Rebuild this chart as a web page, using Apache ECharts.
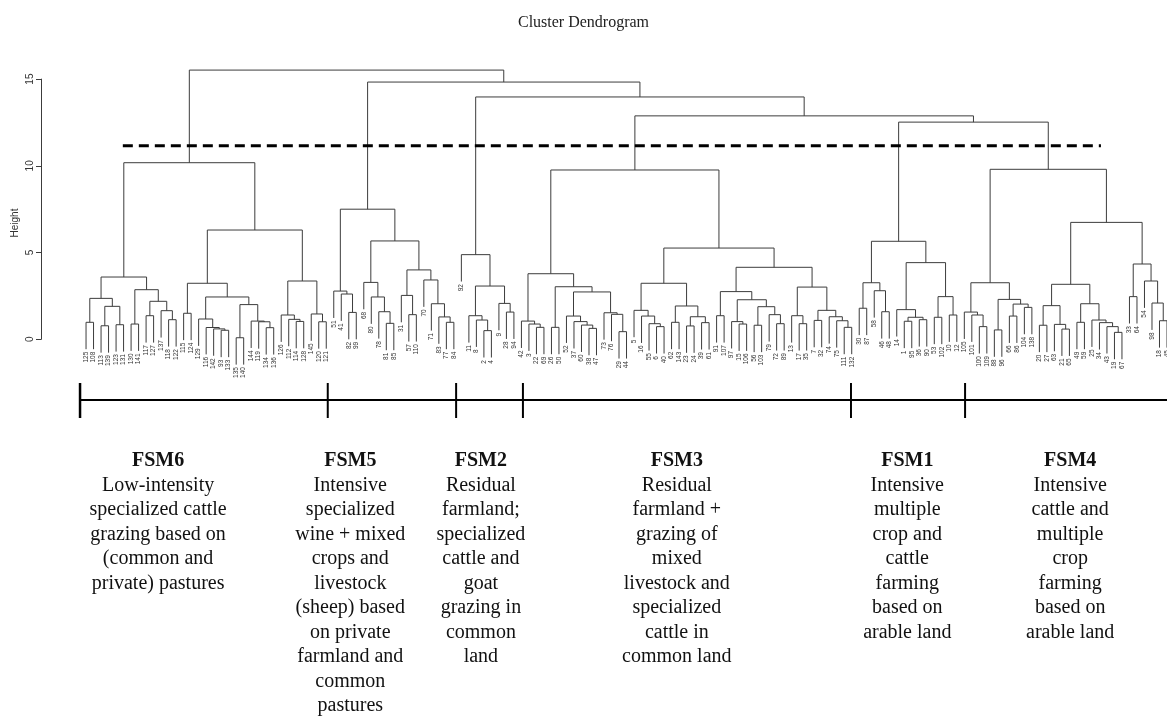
<!DOCTYPE html>
<html>
<head>
<meta charset="utf-8">
<script src="https://cdn.jsdelivr.net/npm/echarts@6/dist/echarts.min.js"></script>
<style>
  html, body { margin: 0; padding: 0; background: #ffffff; }
  #chart { width: 1167px; height: 717px; }
</style>
</head>
<body>
<div id="chart"></div>
<script>
// Merge trees, one per farming-system group: [height, left, right]; leaves are farm ids.
const fsm6 = [10.18,
  [3.59,
    [2.36, [0.98, '125', '108'], [1.90, [0.78, '113', '139'], [0.84, '123', '131']]],
    [2.86, [0.88, '130', '141'], [2.19, [1.36, '117', '127'], [1.65, '137', [1.13, '118', '122']]]]
  ],
  [6.30,
    [3.23,
      [1.50, '115', '124'],
      [2.44,
        [1.17, '129', [0.68, '116', [0.60, '142', [0.52, '93', '133']]]],
        [2.00, [0.09, '135', '140'], [1.05, '144', [1.01, '119', [0.67, '134', '136']]]]
      ]
    ],
    [3.36,
      [1.40, '126', [1.15, '112', [1.03, '114', '128']]],
      [1.46, '145', [1.01, '120', '121']]
    ]
  ]
];

const fsm5 = [7.50,
  [2.78, '51', [2.61, '41', [1.55, '82', '99']]],
  [5.67,
    [3.28, '68', [2.44, '80', [1.59, '78', [0.92, '81', '85']]]],
    [4.00,
      [2.53, '31', [1.42, '57', '110']],
      [3.42, '70', [2.05, '71', [1.29, '83', [0.98, '77', '84']]]]
    ]
  ]
];

const fsm2 = [4.88, '92',
  [3.07,
    [1.36, '11', [1.11, '8', [0.50, '2', '4']]],
    [2.07, '9', [1.57, '28', '94']]
  ]
];

const fsm3 = [9.76,
  [3.78,
    [1.05, '42', [0.88, '3', [0.69, '22', '69']]],
    [3.03,
      [0.69, '26', '50'],
      [2.73,
        [1.34, '52', [1.02, '37', [0.82, '60', [0.63, '38', '47']]]],
        [1.53, '73', [1.44, '76', [0.44, '29', '44']]]
      ]
    ]
  ],
  [5.26,
    [3.23,
      [1.67, '5', [1.34, '16', [0.90, '55', [0.73, '6', '40']]]],
      [1.92, [0.98, '62', '143'], [1.30, [0.77, '23', '24'], [0.96, '39', '61']]]
    ],
    [4.15,
      [2.75,
        [1.36, '91', '107'],
        [2.28, [1.02, '97', [0.88, '15', '106']], [1.88, [0.81, '56', '103'], [1.42, '79', [0.90, '72', '89']]]]
      ],
      [3.01,
        [1.36, '13', [0.90, '17', '35']],
        [1.67, [1.09, '7', '32'], [1.30, '74', [1.07, '75', [0.69, '111', '132']]]]
      ]
    ]
  ]
];

const fsm1 = [5.65,
  [3.26, [1.79, '30', '87'], [2.80, '58', [1.59, '46', '48']]],
  [4.42,
    [1.71, '14', [1.27, [1.04, '1', '95'], [1.13, '36', '90']]],
    [2.46, [1.27, '53', '102'], [1.40, '10', '12']]
  ]
];

const fsm4 = [9.80,
  [3.26,
    [1.57, '105', [1.40, '101', [0.73, '100', '109']]],
    [2.30, [0.54, '88', '96'], [2.03, [1.34, '66', '86'], [1.84, '104', '138']]]
  ],
  [6.74,
    [3.17,
      [1.94, [0.81, '20', '27'], [0.86, '63', [0.59, '21', '65']]],
      [2.05, [0.98, '49', '59'], [1.11, '25', [0.96, '34', [0.73, '43', [0.40, '19', '67']]]]]
    ],
    [4.34,
      [2.46, '33', '64'],
      [3.36, '54', [2.09, '98', [1.07, '18', '45']]]
    ]
  ]
];

// Heights of the upper merges joining the groups, from the root downwards
const topHeights = [15.52, 14.83, 13.97, 12.88, 12.52];
const cutHeight = 11.16;
const yTicks = [0, 5, 10, 15];

const groupNames = ['FSM6', 'FSM5', 'FSM2', 'FSM3', 'FSM1', 'FSM4'];
const groupTexts = [
  ['Low-intensity', 'specialized cattle', 'grazing based on', '(common and', 'private) pastures'],
  ['Intensive', 'specialized', 'wine + mixed', 'crops and', 'livestock', '(sheep) based', 'on private', 'farmland and', 'common', 'pastures'],
  ['Residual', 'farmland;', 'specialized', 'cattle and', 'goat', 'grazing in', 'common', 'land'],
  ['Residual', 'farmland +', 'grazing of', 'mixed', 'livestock and', 'specialized', 'cattle in', 'common land'],
  ['Intensive', 'multiple', 'crop and', 'cattle', 'farming', 'based on', 'arable land'],
  ['Intensive', 'cattle and', 'multiple', 'crop', 'farming', 'based on', 'arable land']
];

// ---- layout (leaf-index units along x, pixels for the notes block) ----
const HANG = 1.55;                     // leaf drop below its merge, like hclust's hang
const X_MIN = -6, X_MAX = 144;
const CUT_FROM = 4.9, CUT_TO = 135.2;
const BRACKET_EDGES = [-0.8, 32.2, 49.3, 58.2, 101.9, 117.1];
const BRACKET_END = 146;
const NOTE_CENTERS = [9.6, 35.2, 52.6, 78.7, 109.4, 131.1];
const BRACKET_Y = 400, BRACKET_TOP = 383, BRACKET_BOTTOM = 418;
const NOTE_TOP = 461, NOTE_STEP = 24.5;

const root = [topHeights[0], fsm6,
  [topHeights[1], fsm5,
    [topHeights[2], fsm2,
      [topHeights[3], fsm3,
        [topHeights[4], fsm1, fsm4]]]]];

// Walk the tree: leaves get consecutive positions, each node sits midway between its children
function buildDendrogram(tree) {
  const segs = [];
  const leaves = [];
  let next = 0;
  function walk(node) {
    if (!Array.isArray(node)) {
      return { x: next++, leaf: true, id: node };
    }
    const h = node[0];
    const a = walk(node[1]);
    const b = walk(node[2]);
    [a, b].forEach(function (c) {
      if (c.leaf) {
        segs.push([c.x, h, c.x, h - HANG]);
        leaves.push({ pos: [c.x, h - HANG], id: c.id });
      } else {
        segs.push([c.x, h, c.x, c.h]);
      }
    });
    segs.push([a.x, h, b.x, h]);
    return { x: (a.x + b.x) / 2, h: h, leaf: false };
  }
  walk(tree);
  return { segs: segs, leaves: leaves };
}

const dendro = buildDendrogram(root);
const leafIds = dendro.leaves.map(function (l) { return l.id; });

const chart = echarts.init(document.getElementById('chart'), null, { renderer: 'canvas' });

const LINE_COLOR = '#3c3c3c';
const SANS = '"Liberation Sans", Arial, sans-serif';
const SERIF = '"Liberation Serif", "Times New Roman", serif';

chart.setOption({
  backgroundColor: '#ffffff',
  animation: false,
  title: {
    text: 'Cluster Dendrogram',
    left: 'center',
    top: 10,
    textStyle: { fontFamily: SERIF, fontSize: 16, fontWeight: 'normal', color: '#222' }
  },
  grid: { left: 41, right: 0, top: 79.1, bottom: 377.7, containLabel: false },
  xAxis: { type: 'value', min: X_MIN, max: X_MAX, show: false },
  yAxis: {
    type: 'value',
    min: 0,
    max: 15,
    interval: 5,
    axisLine: { show: true, onZero: false, lineStyle: { color: LINE_COLOR, width: 1 } },
    axisTick: { show: true, length: 5, lineStyle: { color: LINE_COLOR, width: 1 } },
    axisLabel: {
      rotate: 90, margin: 6, fontSize: 10, color: '#333', fontFamily: SANS,
      customValues: yTicks
    },
    splitLine: { show: false }
  },
  graphic: [{
    // vertical axis title, centred on the plotting region like base R does
    type: 'text',
    x: 15,
    y: 223,
    rotation: Math.PI / 2,
    silent: true,
    style: {
      text: 'Height', align: 'center', verticalAlign: 'middle',
      font: '10px ' + SANS, fill: '#333'
    }
  }],
  series: [
    {
      // branches
      type: 'custom',
      coordinateSystem: 'cartesian2d',
      silent: true,
      clip: false,
      data: dendro.segs,
      renderItem: function (params, api) {
        const p1 = api.coord([api.value(0), api.value(1)]);
        const p2 = api.coord([api.value(2), api.value(3)]);
        return {
          type: 'line',
          shape: { x1: p1[0], y1: p1[1], x2: p2[0], y2: p2[1] },
          style: { stroke: LINE_COLOR, lineWidth: 1 }
        };
      }
    },
    {
      // leaf labels
      type: 'custom',
      coordinateSystem: 'cartesian2d',
      silent: true,
      clip: false,
      data: dendro.leaves.map(function (l) { return l.pos; }),
      renderItem: function (params, api) {
        const p = api.coord([api.value(0), api.value(1)]);
        return {
          type: 'text',
          x: p[0],
          y: p[1] + 2.5,
          rotation: Math.PI / 2,
          style: {
            text: leafIds[params.dataIndex],
            align: 'right',
            verticalAlign: 'middle',
            font: '6.5px ' + SANS,
            fill: '#333'
          }
        };
      }
    },
    {
      // cut height
      type: 'custom',
      coordinateSystem: 'cartesian2d',
      silent: true,
      clip: false,
      data: [[CUT_FROM, cutHeight, CUT_TO, cutHeight]],
      renderItem: function (params, api) {
        const p1 = api.coord([api.value(0), api.value(1)]);
        const p2 = api.coord([api.value(2), api.value(3)]);
        return {
          type: 'line',
          shape: { x1: p1[0], y1: p1[1], x2: p2[0], y2: p2[1] },
          style: { stroke: '#000', lineWidth: 3, lineDash: [10, 6] }
        };
      }
    },
    {
      // group brackets
      type: 'custom',
      coordinateSystem: 'cartesian2d',
      silent: true,
      clip: false,
      data: BRACKET_EDGES.map(function (e) { return [e, 0]; }),
      renderItem: function (params, api) {
        const x = api.coord([api.value(0), 0])[0];
        const children = [{
          type: 'line',
          shape: { x1: x, y1: BRACKET_TOP, x2: x, y2: BRACKET_BOTTOM },
          style: { stroke: '#000', lineWidth: params.dataIndex === 0 ? 2.5 : 2 }
        }];
        if (params.dataIndex === 0) {
          const xe = api.coord([BRACKET_END, 0])[0];
          children.push({
            type: 'line',
            shape: { x1: x, y1: BRACKET_Y, x2: xe, y2: BRACKET_Y },
            style: { stroke: '#000', lineWidth: 2 }
          });
        }
        return { type: 'group', children: children };
      }
    },
    {
      // group names and descriptions
      type: 'custom',
      coordinateSystem: 'cartesian2d',
      silent: true,
      clip: false,
      data: NOTE_CENTERS.map(function (c) { return [c, 0]; }),
      renderItem: function (params, api) {
        const x = api.coord([api.value(0), 0])[0];
        const i = params.dataIndex;
        const children = [{
          type: 'text',
          x: x, y: NOTE_TOP,
          style: {
            text: groupNames[i], align: 'center', verticalAlign: 'middle',
            font: 'bold 20px ' + SERIF, fill: '#111'
          }
        }];
        groupTexts[i].forEach(function (line, k) {
          children.push({
            type: 'text',
            x: x, y: NOTE_TOP + NOTE_STEP * (k + 1),
            style: {
              text: line, align: 'center', verticalAlign: 'middle',
              font: '20px ' + SERIF, fill: '#111'
            }
          });
        });
        return { type: 'group', children: children };
      }
    }
  ]
});
</script>
</body>
</html>
